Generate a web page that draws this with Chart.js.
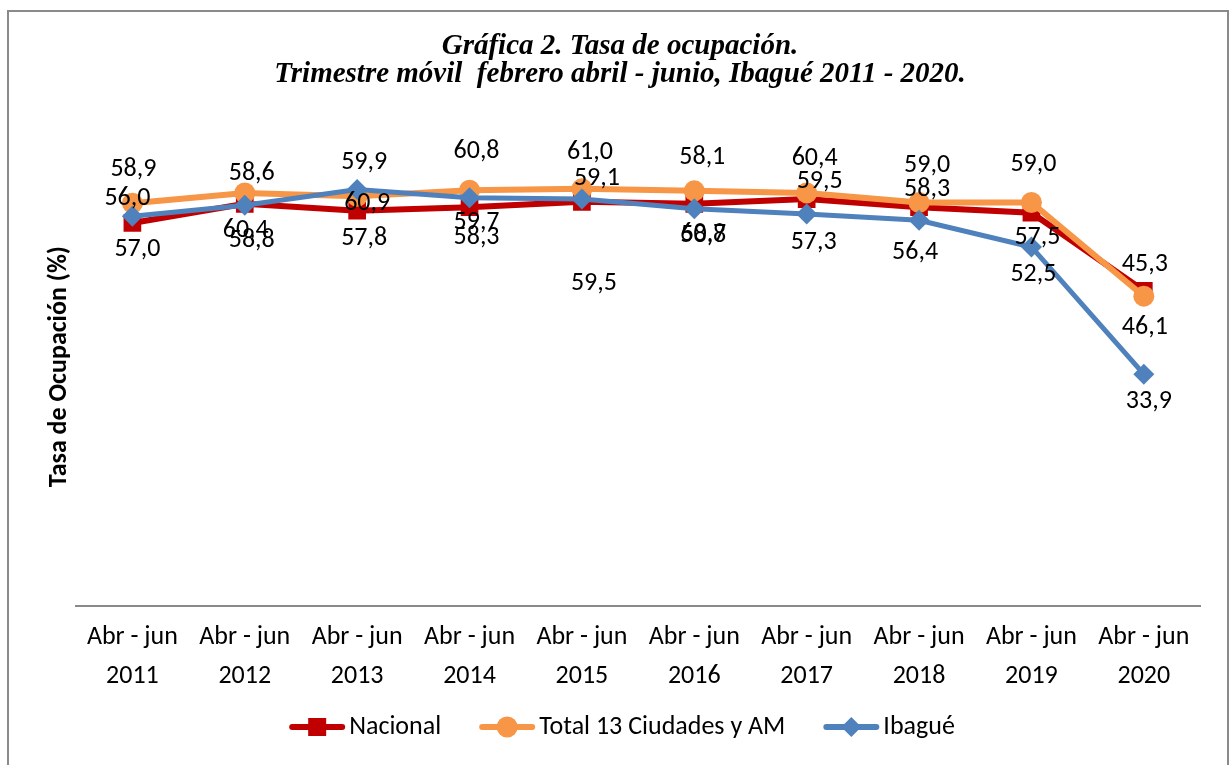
<!DOCTYPE html>
<html>
<head>
<meta charset="utf-8">
<script src="https://cdn.jsdelivr.net/npm/chart.js@4.4.1/dist/chart.umd.min.js"></script>
<style>
html,body{margin:0;padding:0;background:#fff;}
#wrap{width:1230px;height:765px;position:relative;}
</style>
</head>
<body>
<div id="wrap"><canvas id="c" width="1230" height="765"></canvas></div>
<script>
// ---- data ----
const categories = [
  ["Abr - jun","2011"],["Abr - jun","2012"],["Abr - jun","2013"],["Abr - jun","2014"],["Abr - jun","2015"],
  ["Abr - jun","2016"],["Abr - jun","2017"],["Abr - jun","2018"],["Abr - jun","2019"],["Abr - jun","2020"]
];
const nacional   = [56.0, 58.8, 57.8, 58.3, 59.1, 58.8, 59.5, 58.3, 57.5, 46.1];
const ciudades13 = [58.9, 60.4, 59.9, 60.8, 61.0, 60.7, 60.4, 59.0, 59.0, 45.3];
const ibague     = [57.0, 58.6, 60.9, 59.7, 59.5, 58.1, 57.3, 56.4, 52.5, 33.9];
const seriesNames = ["Nacional", "Total 13 Ciudades y AM", "Ibagué"];
const titleLines = ["Gráfica 2. Tasa de ocupación.", "Trimestre móvil  febrero abril - junio, Ibagué 2011 - 2020."];
const yAxisTitle = "Tasa de Ocupación (%)";

// ---- styling / layout (not data) ----
const FONT = "Carlito, Lato, 'Open Sans', sans-serif";
const colors = ["#C00000", "#F79646", "#4F81BD"];
// label offsets (dx, dy) relative to each point, per series
const labelOffsets = [
  [[-5,-25],[7,37],[7,28],[7,30],[15,-23],[9,32],[13,-18],[8,-18],[6,25],[1,37]],
  [[1,-34],[1,38],[7,-34],[7,-39],[8,-36],[9,44],[8,-34],[8,-37],[2,-38],[1,-32]],
  [[5,33],[7,-32],[10,14],[7,25],[12,84],[8,-51],[7,28],[-4,32],[2,28],[5,27]]
];

const fmt = v => v.toFixed(1).replace('.', ',');

const framePlugin = {
  id: 'frame',
  beforeDraw(chart) {
    const ctx = chart.ctx;
    ctx.save();
    ctx.fillStyle = '#fff';
    ctx.fillRect(0, 0, chart.width, chart.height);
    ctx.strokeStyle = '#8a8a8a';
    ctx.lineWidth = 2;
    ctx.strokeRect(8, 11, 1220, 800);
    ctx.restore();
  }
};

const labelPlugin = {
  id: 'pointLabels',
  afterDatasetsDraw(chart) {
    const ctx = chart.ctx;
    ctx.save();
    ctx.font = "26px " + FONT;
    ctx.fillStyle = '#000';
    ctx.textAlign = 'center';
    ctx.textBaseline = 'middle';
    chart.data.datasets.forEach((ds, di) => {
      const meta = chart.getDatasetMeta(di);
      meta.data.forEach((pt, i) => {
        const off = labelOffsets[di][i];
        ctx.fillText(fmt(ds.data[i]), pt.x + off[0], pt.y + off[1]);
      });
    });
    ctx.restore();
  }
};

function drawMarker(ctx, style, x, y, color) {
  ctx.fillStyle = color;
  ctx.beginPath();
  if (style === 'rect') {
    ctx.rect(x - 9, y - 9, 18, 18);
  } else if (style === 'circle') {
    ctx.arc(x, y, 10.5, 0, Math.PI * 2);
  } else {
    ctx.moveTo(x, y - 10); ctx.lineTo(x + 10, y); ctx.lineTo(x, y + 10); ctx.lineTo(x - 10, y); ctx.closePath();
  }
  ctx.fill();
}

const legendPlugin = {
  id: 'customLegend',
  afterDraw(chart) {
    const ctx = chart.ctx;
    ctx.save();
    ctx.font = "26px " + FONT;
    const lineLen = 56, gapText = 4, gapItem = 38;
    const styles = ['rect', 'circle', 'rectRot'];
    const widths = seriesNames.map(n => lineLen + gapText + ctx.measureText(n).width);
    const total = widths.reduce((a, b) => a + b, 0) + gapItem * (widths.length - 1);
    let x = 622 - total / 2;
    const y = 727;
    seriesNames.forEach((name, i) => {
      ctx.strokeStyle = colors[i];
      ctx.lineWidth = 6;
      ctx.lineCap = 'round';
      ctx.beginPath();
      ctx.moveTo(x + 3, y); ctx.lineTo(x + lineLen - 3, y);
      ctx.stroke();
      drawMarker(ctx, styles[i], x + lineLen / 2, y, colors[i]);
      ctx.fillStyle = '#000';
      ctx.textAlign = 'left';
      ctx.textBaseline = 'middle';
      ctx.fillText(name, x + lineLen + gapText, y);
      x += widths[i] + gapItem;
    });
    ctx.restore();
  }
};

const ctx = document.getElementById('c').getContext('2d');
new Chart(ctx, {
  type: 'line',
  data: {
    labels: categories,
    datasets: [
      { label: seriesNames[0], data: nacional, borderColor: colors[0], backgroundColor: colors[0],
        borderWidth: 6, pointStyle: 'rect', pointRadius: 12.5, pointBorderWidth: 0, order: 3, tension: 0 },
      { label: seriesNames[1], data: ciudades13, borderColor: colors[1], backgroundColor: colors[1],
        borderWidth: 6, pointStyle: 'circle', pointRadius: 10.5, pointBorderWidth: 0, order: 2, tension: 0 },
      { label: seriesNames[2], data: ibague, borderColor: colors[2], backgroundColor: colors[2],
        borderWidth: 5, pointStyle: 'rectRot', pointRadius: 10.5, pointBorderWidth: 0, order: 1, tension: 0 }
    ]
  },
  options: {
    responsive: false,
    animation: false,
    events: [],
    devicePixelRatio: 1,
    layout: { padding: { left: 40, right: 30, top: 0, bottom: 57 } },
    plugins: {
      legend: { display: false },
      tooltip: { enabled: false },
      title: {
        display: true, text: titleLines, color: '#000',
        font: { family: "'Liberation Serif', 'Times New Roman', serif", size: 29, style: 'italic', weight: 'bold', lineHeight: 0.97 },
        padding: { top: 32, bottom: 39 }
      }
    },
    scales: {
      x: {
        offset: true,
        grid: { display: false, drawTicks: false, tickLength: 0 },
        border: { display: true, color: '#8a8a8a', width: 2 },
        ticks: { color: '#000', font: { family: FONT, size: 26, lineHeight: 1.5 }, padding: 12, maxRotation: 0, autoSkip: false }
      },
      y: {
        min: 0, max: 70,
        grid: { display: false, drawTicks: false, tickLength: 0 },
        border: { display: false },
        ticks: { display: false },
        title: { display: true, text: yAxisTitle, color: '#000',
          font: { family: FONT, size: 26, weight: 'bold', lineHeight: 1.2 }, padding: { top: 4, bottom: 1 } }
      }
    }
  },
  plugins: [framePlugin, labelPlugin, legendPlugin]
});
</script>
</body>
</html>
